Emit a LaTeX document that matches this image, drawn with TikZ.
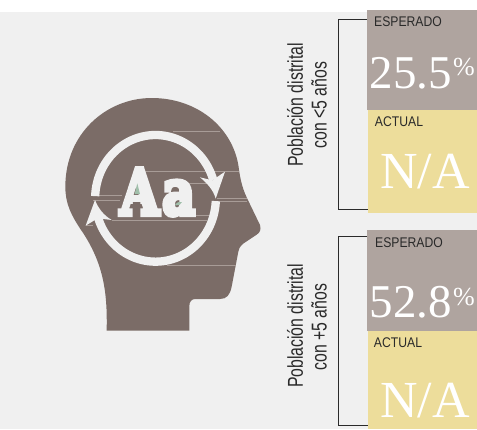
\documentclass[tikz,border=0pt]{standalone}
\usepackage{fontspec}
\setmainfont{Liberation Sans}
\newfontfamily\numfont{Liberation Serif}
\newfontfamily\slabfont[FakeBold=8]{DejaVu Serif}
\newcommand{\nar}[2]{\scalebox{#1}[1]{#2}}
\definecolor{bgc}{HTML}{F0F0F0}
\definecolor{headc}{HTML}{7B6C67}
\definecolor{greyc}{HTML}{AFA49F}
\definecolor{yelc}{HTML}{EDDD9B}
\definecolor{linec}{HTML}{2A2A2A}
\definecolor{faintc}{HTML}{A89C97}
\definecolor{greenc}{HTML}{A0BFAA}
\tikzset{
  boxn/.style={anchor=north west,inner sep=0pt,outer sep=0pt,minimum width=#1},
  lab/.style={inner sep=0pt,text=linec,font=\fontsize{14}{15}\selectfont},
  rotlab/.style={inner sep=0pt,rotate=90,text=linec,font=\fontsize{21.5}{23}\selectfont},
  bignum/.style={inner sep=0pt,text=white,font=\numfont\fontsize{47}{48}\selectfont},
  pct/.style={inner sep=0pt,text=white,font=\numfont\fontsize{26}{28}\selectfont},
  ring/.style={draw=bgc,line width=8.3pt,line cap=butt},
  faint/.style={draw=faintc,line width=.4pt},
  bracket/.style={draw=linec,line width=.8pt}
}
\begin{document}
\begin{tikzpicture}[x=1pt,y=-1pt]
\useasboundingbox (0,0) rectangle (477,429);
\fill[white] (0,0) rectangle (477,429);
\fill[bgc] (0,12) rectangle (477,429);
% boxes
\node[boxn=110pt,minimum height=100pt,fill=greyc] (e1) at (367,10) {};
\node[boxn=109pt,minimum height=103pt,fill=yelc] (a1) at (368,110) {};
\node[boxn=110pt,minimum height=101pt,fill=greyc] (e2) at (367,230) {};
\node[boxn=109pt,minimum height=98pt,fill=yelc] (a2) at (368,331) {};
% brackets
\coordinate (b1t) at (338.5,19.3);
\coordinate (b1b) at (338.5,209.5);
\coordinate (b2t) at (338.5,236);
\coordinate (b2b) at (338.5,425.7);
\draw[bracket] (b1t -| e1.west) -- (b1t) -- (b1b) -- (b1b -| a1.west);
\draw[bracket] (b2t -| e2.west) -- (b2t) -- (b2b) -- (b2b -| a2.west);
% head
\begin{scope}[xshift=50pt,yshift=-90pt,x=.33333pt,y=-.33333pt]
\fill[headc] (170,722) .. controls (172,620) and (165,530) .. (100,430)
  .. controls (62,375) and (46,340) .. (46,290)
  .. controls (46,130) and (170,24) .. (305,24)
  .. controls (440,24) and (545,110) .. (565,225)
  .. controls (570,262) and (575,290) .. (590,322)
  -- (630,405) .. controls (634,418) and (630,428) .. (620,434)
  -- (590,454) .. controls (575,463) and (568,470) .. (565,485)
  -- (545,590) .. controls (540,615) and (530,627) .. (510,627)
  -- (436,627) .. controls (425,627) and (418,635) .. (418,648)
  -- (418,722) -- cycle;
\foreach \a/\b/\c in {370/510/124,270/568/243,395/470/280,500/590/325,510/590/333,130/215/316,130/210/332,107/130/407,185/470/391,420/480/376,350/558/526}
  \draw[faint] (\a,\c) -- (\b,\c);
\draw[ring] plot[domain=178:17,samples=70,smooth] ({316.5+181*cos(\x)},{325-190*sin(\x)});
\draw[ring] plot[domain=-2.5:-165,samples=70,smooth] ({316.5+181*cos(\x)},{325-190*sin(\x)});
\fill[bgc] (450,262) -- (487,271) -- (525,245) -- (497,326) .. controls (490,300) and (472,280) .. cycle;
\fill[bgc] (185,390) -- (143,385) -- (107,407) -- (135,330) .. controls (145,355) and (160,375) .. cycle;
\end{scope}
\node[inner sep=0pt,text=bgc,font=\slabfont\bfseries\fontsize{63}{66}\selectfont] (aa) at (157.5,192) {\nar{.8}{A\kern4pt a}};
\begin{scope}[xshift=50pt,yshift=-90pt,x=.33333pt,y=-.33333pt]
\fill[greenc] (262,280) -- (270,312) -- (254,312) -- cycle;
\fill[greenc] (376,343) .. controls (382,335) and (392,335) .. (396,336) .. controls (394,345) and (384,348) .. (376,346) -- cycle;
\fill[headc] (249,336) rectangle (271,345) (257,345) rectangle (266,378);
\end{scope}
% labels
\node[rotlab] (p1) at (295,105) {\nar{.735}{Población distrital}};
\node[rotlab] (c1) at (319,105) {\nar{.735}{con <5 años}};
\node[rotlab] (p2) at (295,326) {\nar{.735}{Población distrital}};
\node[rotlab] (c2) at (319,327) {\nar{.735}{con +5 años}};
\node[lab] (t1) at (408,22) {\nar{.87}{ESPERADO}};
\node[lab] (t2) at (399,122) {\nar{.87}{ACTUAL}};
\node[lab] (t3) at (409,243) {\nar{.87}{ESPERADO}};
\node[lab] (t4) at (398,343) {\nar{.87}{ACTUAL}};
\node[bignum] (n1) at (411,73) {25.5};
\node[pct] (q1) at (464,67) {\%};
\node[bignum,font=\numfont\fontsize{52}{54}\selectfont] (n2) at (425,172) {N/A};
\node[bignum] (n3) at (411,302) {52.8};
\node[pct] (q2) at (464,297) {\%};
\node[bignum,font=\numfont\fontsize{52}{54}\selectfont] (n4) at (425,401) {N/A};
\end{tikzpicture}
\end{document}
